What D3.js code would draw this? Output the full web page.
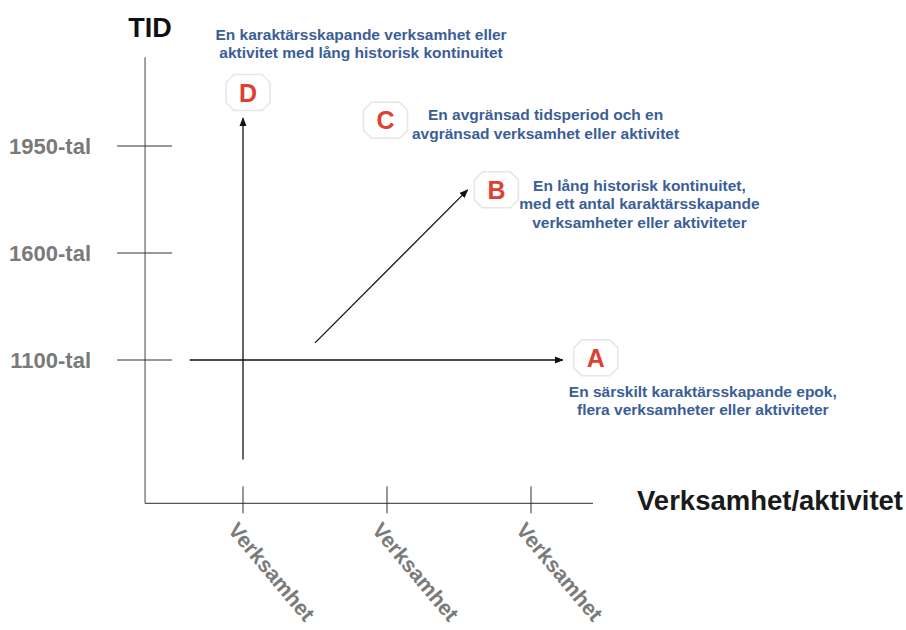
<!DOCTYPE html>
<html>
<head>
<meta charset="utf-8">
<script src="https://cdn.jsdelivr.net/npm/d3@7"></script>
<style>
  body { margin: 0; background: #fff; }
  svg { display: block; font-family: "Liberation Sans", Arial, sans-serif; }
</style>
</head>
<body>
<div id="chart"></div>
<script>
// Time periods on the vertical axis (bottom to top)
const periods = ['1100-tal', '1600-tal', '1950-tal'];
// Activity categories on the horizontal axis
const activities = ['Verksamhet', 'Verksamhet', 'Verksamhet'];

// Badges: letter, position in (activity index, period index)
const badgeLetters = ['A', 'B', 'C', 'D'];
const badgeX = [2.45, 1.76, 0.99, 0.035];
const badgeY = [0.02, 1.59, 2.24, 2.5];
const badgeText = [
    ['En särskilt karaktärsskapande epok,', 'flera verksamheter eller aktiviteter'],
    ['En lång historisk kontinuitet,', 'med ett antal karaktärsskapande', 'verksamheter eller aktiviteter'],
    ['En avgränsad tidsperiod och en', 'avgränsad verksamhet eller aktivitet'],
    ['En karaktärsskapande verksamhet eller', 'aktivitet med lång historisk kontinuitet']
];

// Arrows: [x0, y0, x1, y1] in the same data units
const arrows = [
    [-0.37, 0, 2.22, 0],
    [0, -0.93, 0, 2.26],
    [0.5, 0.16, 1.56, 1.59]
];

const width = 906, height = 630;

const svg = d3.select('#chart').append('svg')
    .attr('width', width)
    .attr('height', height);

// scales - activity index -> px, period index -> px
const x = d3.scaleLinear().domain([0, 2]).range([243, 531]);
const y = d3.scaleLinear().domain([0, 2]).range([360, 146]);

const axisColor = '#8a8a8a';

svg.append('defs').append('marker')
    .attr('id', 'arrowhead')
    .attr('viewBox', '0 0 10 10')
    .attr('refX', 9).attr('refY', 5)
    .attr('markerWidth', 9).attr('markerHeight', 9)
    .attr('markerUnits', 'userSpaceOnUse')
    .attr('orient', 'auto')
    .append('path')
    .attr('d', 'M0,1 L10,5 L0,9 Z')
    .attr('fill', '#111');

// Y axis (TID)
const yAxisX = x(-0.68);
svg.append('line')
    .attr('x1', yAxisX).attr('x2', yAxisX)
    .attr('y1', y(2.83)).attr('y2', y(-1.34))
    .attr('stroke', axisColor).attr('stroke-width', 1.6);

svg.selectAll('.ytick')
    .data(periods)
    .join('line')
    .attr('class', 'ytick')
    .attr('x1', yAxisX - 28).attr('x2', yAxisX + 27)
    .attr('y1', (d, i) => y(i)).attr('y2', (d, i) => y(i))
    .attr('stroke', '#333').attr('stroke-width', 1);

svg.selectAll('.ylabel')
    .data(periods)
    .join('text')
    .attr('class', 'ylabel')
    .attr('x', 91)
    .attr('y', (d, i) => y(i))
    .attr('dy', '0.35em')
    .attr('text-anchor', 'end')
    .attr('font-size', 22).attr('font-weight', 'bold')
    .attr('fill', '#7a7a7a')
    .text(d => d);

svg.append('text')
    .attr('x', yAxisX + 5).attr('y', 37)
    .attr('text-anchor', 'middle')
    .attr('font-size', 27).attr('font-weight', 'bold')
    .attr('fill', '#111')
    .text('TID');

// X axis (Verksamhet/aktivitet)
const xAxisY = y(-1.34);
svg.append('line')
    .attr('x1', yAxisX).attr('x2', x(2.43))
    .attr('y1', xAxisY).attr('y2', xAxisY)
    .attr('stroke', '#555').attr('stroke-width', 1.3);

svg.selectAll('.xtick')
    .data(activities)
    .join('line')
    .attr('class', 'xtick')
    .attr('x1', (d, i) => x(i)).attr('x2', (d, i) => x(i))
    .attr('y1', xAxisY - 17).attr('y2', xAxisY + 10)
    .attr('stroke', '#333').attr('stroke-width', 1);

// rotated labels, kept just inside the bottom edge
svg.selectAll('.xlabel')
    .data(activities)
    .join('text')
    .attr('class', 'xlabel')
    .attr('transform', (d, i) => `translate(${x(i) - 16},${xAxisY + 27}) rotate(50)`)
    .attr('font-size', 21.5).attr('font-weight', 'bold')
    .attr('fill', '#7a7a7a')
    .text(d => d);

svg.append('text')
    .attr('x', 903).attr('y', 510)
    .attr('text-anchor', 'end')
    .attr('font-size', 27.5).attr('font-weight', 'bold')
    .attr('fill', '#1a1a1a')
    .text('Verksamhet/aktivitet');

// Arrows
svg.selectAll('.arrow')
    .data(arrows)
    .join('line')
    .attr('class', 'arrow')
    .attr('x1', d => x(d[0])).attr('y1', d => y(d[1]))
    .attr('x2', d => x(d[2])).attr('y2', d => y(d[3]))
    .attr('stroke', '#111').attr('stroke-width', 1.3)
    .attr('marker-end', 'url(#arrowhead)');

// Badges - octagons with red letter
const octagon = (w, h, c) => `M${-w + c},${-h} L${w - c},${-h} L${w},${-h + c} L${w},${h - c} L${w - c},${h} L${-w + c},${h} L${-w},${h - c} L${-w},${-h + c} Z`;

const badges = svg.selectAll('.badge')
    .data(badgeLetters)
    .join('g')
    .attr('class', 'badge')
    .attr('transform', (d, i) => `translate(${x(badgeX[i])},${y(badgeY[i])})`);

badges.append('path')
    .attr('d', octagon(22, 18, 8))
    .attr('fill', '#fff')
    .attr('stroke', '#e6e6e6').attr('stroke-width', 1.5);

badges.append('text')
    .attr('text-anchor', 'middle')
    .attr('dy', '0.36em')
    .attr('font-size', 25).attr('font-weight', 'bold')
    .attr('fill', '#e0402f')
    .text(d => d);

// Descriptions: centre offset from each badge
const textDx = [107, 143, 160, 113];
const textDy = [39, 1, 0, -53];
const lineH = 18.5;

badgeLetters.forEach((letter, i) => {
    const t = svg.append('text')
        .attr('text-anchor', 'middle')
        .attr('font-size', 15.5).attr('font-weight', 'bold')
        .attr('fill', '#3b5e96');
    badgeText[i].forEach((line, j) => {
        t.append('tspan')
            .attr('x', x(badgeX[i]) + textDx[i])
            .attr('y', y(badgeY[i]) + textDy[i] + j * lineH)
            .text(line);
    });
});
</script>
</body>
</html>
